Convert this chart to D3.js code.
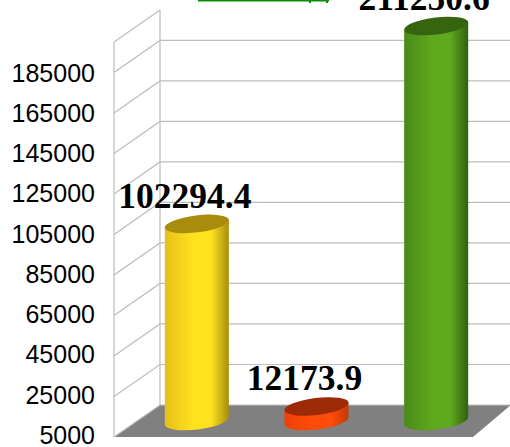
<!DOCTYPE html>
<html><head><meta charset="utf-8">
<script src="https://cdn.jsdelivr.net/npm/d3@7"></script>
<style>html,body{margin:0;padding:0;background:#fff}svg{display:block}</style>
</head><body><div id="c"></div>
<script>
const categories = ["A","B","C"];
const values = [102294.4, 12173.9, 211250.6];
const valueLabels = ["102294.4","12173.9","211250.6"];
const tickValues = [5000,25000,45000,65000,85000,105000,125000,145000,165000,185000];
const sideColors = [["#e6bf1a","#ffe21e","#a88c10"],["#f0400a","#ff4c0a","#c43806"],["#4a8a18","#5fa91e","#335f10"]];
const topColors = ["#a98b0d","#9c2a06","#37650f"];

const W=510,H=447;
const svg=d3.select("#c").append("svg").attr("width",W).attr("height",H);
const front={x:114,y:437}, back={x:160,y:405};
const y=d3.scaleLinear().domain([5000,200000]).range([0,-395]).clamp(true);
const labelY=d3.scaleLinear().domain([5000,185000]).range([435.5,73]);
const x=d3.scaleBand().domain(categories).range([137,496]).paddingInner(0.465).paddingOuter(0.2325);
const midY=421;

const defs=svg.append("defs");
categories.forEach((c,i)=>{
  const g=defs.append("linearGradient").attr("id","g"+i);
  [[0,0],[.45,1],[.72,1],[1,2]].forEach(([o,k])=>g.append("stop").attr("offset",o).attr("stop-color",sideColors[i][k]));
});

// floor
svg.append("polygon").attr("fill","#808080")
  .attr("points",[[front.x,front.y],[front.x+359,front.y],[W+1,back.y],[back.x,back.y]].join(" "));

// walls
const gridColor="#bdbdbd";
const gridV=[...tickValues,200000];
svg.append("g").selectAll("path").data(gridV).join("path")
  .attr("fill","none").attr("stroke",gridColor).attr("stroke-width",1.2)
  .attr("d",(v,i)=>`M${front.x},${front.y+y(v)}L${back.x},${back.y+y(v)}`+(v<200000?`H${W}`:""));
svg.append("path").attr("fill","none").attr("stroke",gridColor).attr("stroke-width",1.2)
  .attr("d",`M${front.x},${front.y}V${front.y+y(200000)}M${back.x},${back.y}V${back.y+y(200000)}`);

// bars
const rot=-7, ry=8.5;
const bars=svg.append("g").selectAll("g").data(categories).join("g");
bars.each(function(c,i){
  const g=d3.select(this), bw=x.bandwidth(), cx=x(c)+bw/2, rx=bw/2;
  const tilt=rx*Math.tan(-rot*Math.PI/180);
  const rxx=rx/Math.cos(rot*Math.PI/180);
  const ty=midY+y(values[i]);
  const d=`M${cx-rx},${ty+tilt}L${cx-rx},${midY+tilt}A${rxx},${ry} ${rot} 0 0 ${cx+rx},${midY-tilt}L${cx+rx},${ty-tilt}Z`;
  g.append("path").attr("d",d).attr("fill",`url(#g${i})`);
  g.append("ellipse").attr("cx",cx).attr("cy",ty).attr("rx",rxx).attr("ry",ry)
    .attr("transform",`rotate(${rot} ${cx} ${ty})`).attr("fill",topColors[i]);
});

// value labels
svg.append("g").selectAll("text").data(valueLabels).join("text")
  .attr("x",(d,i)=>x(categories[i])+x.bandwidth()/2-12)
  .attr("y",(d,i)=>midY+y(values[i])-16)
  .attr("text-anchor","middle")
  .attr("font-family","'Liberation Serif'").attr("font-weight","bold").attr("font-size",35.5)
  .attr("fill","#000").text(d=>d);

// axis labels
const axis=d3.axisLeft(labelY).tickValues(tickValues).tickSize(0).tickPadding(0).tickFormat(d3.format("d"));
const ag=svg.append("g").attr("transform","translate(95,0)").call(axis);
ag.select(".domain").remove();
ag.selectAll("text").attr("font-family","'Liberation Sans'").attr("font-size",25).attr("fill","#000");

// clipped green stroke at the top edge
svg.append("path").attr("fill","none").attr("stroke","#0a8a0a").attr("stroke-width",2)
  .attr("d","M198,0.5H329M310,0V3M327,0V3");
</script></body></html>
